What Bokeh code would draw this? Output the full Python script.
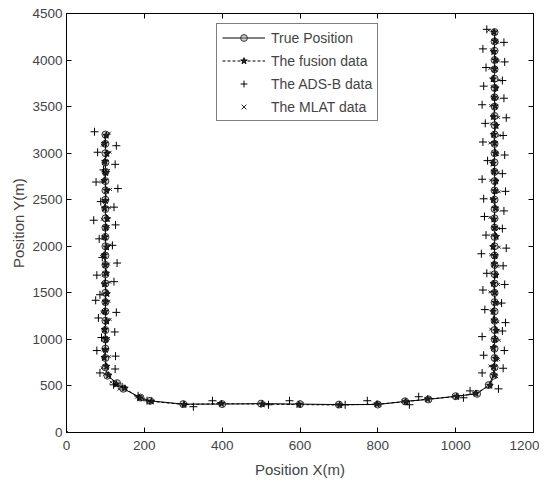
from bokeh.plotting import figure
from bokeh.models import Range1d, FixedTicker, LinearAxis, Legend, LegendItem
from bokeh.embed import file_html
from bokeh.resources import INLINE

# ---------------- data ----------------
x_ticks = [0, 200, 400, 600, 800, 1000, 1200]
y_ticks = [0, 500, 1000, 1500, 2000, 2500, 3000, 3500, 4000, 4500]

# True position (left leg, turn / bottom leg, right leg)
true_x = ([100, 100, 100, 100, 100, 100, 100, 100, 100, 100, 100, 100, 100,
           100, 100, 100, 100, 100, 100, 100, 100, 100, 100, 100, 100, 100]
          + [105, 130, 146, 190, 215, 300, 400, 500, 600, 700, 800, 870, 930, 1000, 1055, 1085, 1097]
          + [1100, 1100, 1100, 1100, 1100, 1100, 1100, 1100, 1100, 1100, 1100, 1100, 1100,
             1100, 1100, 1100, 1100, 1100, 1100, 1100, 1100, 1100, 1100, 1100, 1100, 1100,
             1100, 1100, 1100, 1100, 1100, 1100, 1100, 1100, 1100, 1100, 1100])
true_y = ([3200, 3100, 3000, 2900, 2800, 2700, 2600, 2500, 2400, 2300, 2200, 2100, 2000,
           1900, 1800, 1700, 1600, 1500, 1400, 1300, 1200, 1100, 1000, 900, 800, 700]
          + [610, 530, 470, 375, 340, 305, 305, 310, 305, 300, 300, 335, 355, 390, 415, 510, 610]
          + [700, 800, 900, 1000, 1100, 1200, 1300, 1400, 1500, 1600, 1700, 1800, 1900,
             2000, 2100, 2200, 2300, 2400, 2500, 2600, 2700, 2800, 2900, 3000, 3100, 3200,
             3300, 3400, 3500, 3600, 3700, 3800, 3900, 4000, 4100, 4200, 4300])

# Fusion data
fusion_x = ([102, 98, 104, 99, 101, 97, 103, 100, 98, 105, 101, 99, 103,
             97, 100, 102, 98, 104, 100, 99, 103, 98, 101, 100, 97, 103]
            + [108, 128, 150, 188, 218, 302, 398, 503, 597, 702, 798, 872, 928, 1003, 1052, 1088, 1099]
            + [1098, 1103, 1097, 1101, 1104, 1099, 1096, 1102, 1100, 1097, 1103, 1099, 1101,
               1096, 1104, 1100, 1098, 1102, 1097, 1101, 1103, 1099, 1096, 1102, 1100, 1098,
               1104, 1097, 1101, 1099, 1103, 1096, 1100, 1102, 1098, 1101, 1099])
fusion_y = ([3190, 3105, 2995, 2910, 2790, 2705, 2600, 2490, 2410, 2295, 2205, 2100, 1990,
             1905, 1800, 1710, 1595, 1490, 1405, 1300, 1195, 1105, 1000, 890, 805, 710]
            + [615, 520, 475, 370, 335, 300, 310, 305, 300, 295, 305, 330, 360, 385, 420, 505, 615]
            + [705, 795, 910, 1000, 1095, 1205, 1300, 1395, 1505, 1600, 1690, 1810, 1900,
               1995, 2105, 2200, 2290, 2410, 2500, 2595, 2700, 2805, 2890, 3000, 3110, 3200,
               3295, 3390, 3505, 3600, 3700, 3795, 3905, 4000, 4090, 4205, 4300])

# ADS-B data
adsb_x = ([72, 128, 80, 125, 95, 76, 132, 88, 122, 70, 126, 84, 118,
           92, 130, 78, 122, 86, 75, 128, 82, 124, 90, 78, 126, 125]
          + [86, 121, 143, 184, 207, 326, 375, 519, 573, 716, 773, 881, 905, 1020, 1037, 1110, 1068]
          + [1122, 1072, 1125, 1068, 1120, 1128, 1075, 1118, 1070, 1126, 1080, 1122, 1066,
             1130, 1078, 1120, 1074, 1124, 1072, 1128, 1068, 1120, 1082, 1126, 1070, 1122,
             1076, 1130, 1068, 1124, 1072, 1120, 1078, 1126, 1070, 1124, 1080])
adsb_y = ([3230, 3080, 3010, 2880, 2820, 2690, 2620, 2480, 2420, 2280, 2230, 2080, 2010,
           1880, 1820, 1690, 1620, 1480, 1420, 1290, 1230, 1080, 1020, 880, 820, 682]
          + [640, 512, 490, 394, 341, 277, 341, 298, 341, 298, 341, 298, 384, 373, 447, 469, 640]
          + [690, 830, 880, 1030, 1090, 1180, 1320, 1390, 1530, 1590, 1710, 1790, 1920,
             1980, 2120, 2190, 2320, 2380, 2510, 2590, 2720, 2780, 2920, 2980, 3120, 3190,
             3320, 3380, 3520, 3590, 3720, 3780, 3920, 3980, 4120, 4190, 4330])

# MLAT data (first point: the stray sample at the origin)
mlat_x = ([0]
          + [110, 92, 112, 95, 108, 90, 113, 96, 110, 92, 107, 94, 112,
             90, 108, 95, 111, 93, 109, 91, 112, 96, 108, 94, 110, 92]
          + [98, 115, 135, 180, 210, 295, 390, 505, 605, 695, 805, 865, 925, 995, 1050, 1090, 1105]
          + [1088, 1110, 1092, 1112, 1090, 1108, 1094, 1112, 1088, 1110, 1092, 1108, 1090,
             1112, 1094, 1110, 1088, 1108, 1092, 1112, 1090, 1110, 1094, 1108, 1088, 1112,
             1092, 1110, 1090, 1108, 1094, 1112, 1088, 1110, 1092, 1108, 1085])
mlat_y = ([0]
          + [3215, 3085, 3010, 2890, 2815, 2690, 2610, 2485, 2415, 2290, 2210, 2085, 2015,
             1890, 1810, 1690, 1615, 1485, 1410, 1290, 1215, 1090, 1010, 885, 815, 695]
          + [625, 540, 465, 380, 330, 300, 315, 300, 310, 300, 295, 340, 350, 395, 410, 520, 600]
          + [715, 785, 915, 990, 1110, 1190, 1315, 1385, 1510, 1590, 1715, 1785, 1910,
             1990, 2115, 2190, 2310, 2390, 2515, 2585, 2710, 2790, 2915, 2985, 3110, 3190,
             3315, 3385, 3510, 3590, 3715, 3785, 3910, 3990, 4110, 4190, 4320])

x_label = "Position X(m)"
y_label = "Position Y(m)"
series_names = ["True Position", "The fusion data", "The ADS-B data", "The MLAT data"]

FONT = "Liberation Sans"

# ---------------- figure ----------------
p = figure(width=539, height=480, output_backend="svg", toolbar_location=None,
           x_range=Range1d(0, 1200), y_range=Range1d(0, 4500),
           min_border_left=66, min_border_right=6, min_border_top=13, min_border_bottom=45)
p.xgrid.visible = False
p.ygrid.visible = False
p.outline_line_color = "black"
p.outline_line_width = 1
p.background_fill_color = "white"
p.border_fill_color = "white"

for ax, ticks, lab in ((p.xaxis[0], x_ticks, x_label), (p.yaxis[0], y_ticks, y_label)):
    ax.ticker = FixedTicker(ticks=ticks)
    ax.axis_label = lab
    ax.axis_label_text_font = FONT
    ax.axis_label_text_font_size = "15px"
    ax.axis_label_text_font_style = "normal"
    ax.major_label_text_font = FONT
    ax.major_label_text_font_size = "13.5px"
    ax.major_tick_in = 5
    ax.major_tick_out = 0
    ax.minor_tick_in = 0
    ax.minor_tick_out = 0
    ax.axis_line_color = "black"
    ax.major_tick_line_color = "black"
p.xaxis[0].major_label_standoff = 8
p.xaxis[0].axis_label_standoff = 8
p.yaxis[0].major_label_standoff = 4
p.yaxis[0].axis_label_standoff = 2

# ticks on top and right (box), labels left empty
top_ax = LinearAxis(ticker=FixedTicker(ticks=x_ticks), major_tick_in=5, major_tick_out=0,
                    minor_tick_in=0, minor_tick_out=0,
                    major_label_overrides={t: "" for t in x_ticks}, major_label_standoff=0)
right_ax = LinearAxis(ticker=FixedTicker(ticks=y_ticks), major_tick_in=5, major_tick_out=0,
                      minor_tick_in=0, minor_tick_out=0,
                      major_label_overrides={t: "" for t in y_ticks}, major_label_standoff=0)
p.add_layout(top_ax, "above")
p.add_layout(right_ax, "right")

# ---------------- glyphs ----------------
r_true_line = p.line(true_x, true_y, line_color="black", line_width=1)
r_true_pts = p.scatter(true_x, true_y, marker="circle", size=7, line_color="#333333",
                       fill_color="#999999", fill_alpha=0.45, line_width=1)

r_fus_line = p.line(fusion_x, fusion_y, line_color="black", line_width=1, line_dash="3 2")
r_fus_pts = p.scatter(fusion_x, fusion_y, marker="star", size=7, line_color="#111111",
                      fill_color="#222222", line_width=1)

r_adsb = p.scatter(adsb_x, adsb_y, marker="cross", size=8, line_color="black", line_width=1)
r_mlat = p.scatter(mlat_x, mlat_y, marker="x", size=4, line_color="#222222", line_width=1)

legend = Legend(items=[
    LegendItem(label=series_names[0], renderers=[r_true_line, r_true_pts]),
    LegendItem(label=series_names[1], renderers=[r_fus_line, r_fus_pts]),
    LegendItem(label=series_names[2], renderers=[r_adsb]),
    LegendItem(label=series_names[3], renderers=[r_mlat]),
], location=(150, 311))
legend.label_text_font = FONT
legend.label_text_font_size = "14px"
legend.glyph_width = 43
legend.glyph_height = 17
legend.label_height = 17
legend.label_standoff = 6
legend.spacing = 6
legend.padding = 5
legend.margin = 0
legend.border_line_color = "black"
legend.border_line_width = 1
legend.background_fill_alpha = 1
p.add_layout(legend, "center")

open("out.html", "w").write(file_html(p, INLINE))
